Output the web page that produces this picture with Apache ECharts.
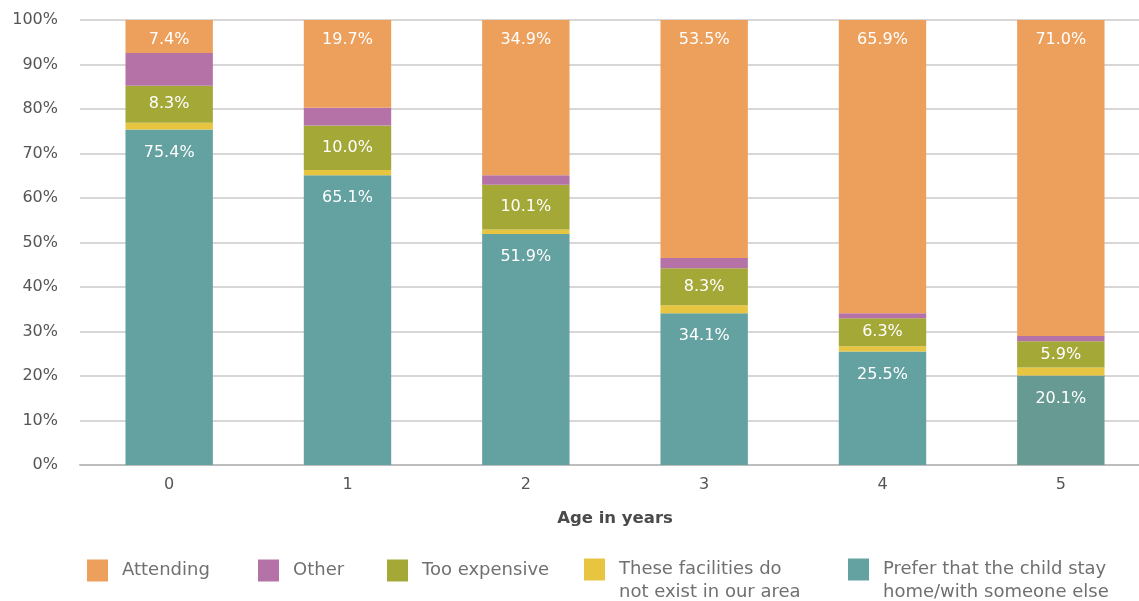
<!DOCTYPE html>
<html>
<head>
<meta charset="utf-8">
<script src="https://cdn.jsdelivr.net/npm/echarts@6/dist/echarts.min.js"></script>
<style>
  html, body { margin: 0; padding: 0; background: #fff; }
  #chart { width: 1139px; height: 601px; }
</style>
</head>
<body>
<div id="chart"></div>
<script>
// Reasons for not attending childcare, by age of the child (shares, %)
const ages = ['0', '1', '2', '3', '4', '5'];
const yTicks = ['0%', '10%', '20%', '30%', '40%', '50%', '60%', '70%', '80%', '90%', '100%'];

const prefer       = [75.4, 65.1, 51.9, 34.1, 25.5, 20.1];
const noFacility   = [1.5, 1.2, 1.0, 1.8, 1.2, 1.8];
const tooExpensive = [8.3, 10.0, 10.1, 8.3, 6.3, 5.9];
const other        = [7.4, 4.0, 2.1, 2.3, 1.1, 1.2];
const attending    = [7.4, 19.7, 34.9, 53.5, 65.9, 71.0];

const seriesNames = [
  'Prefer that the child stay\nhome/with someone else',
  'These facilities do\nnot exist in our area',
  'Too expensive',
  'Other',
  'Attending'
];

const FONT = 'DejaVu Sans';
const colors = {
  prefer: '#64a1a1',
  noFacility: '#e8c540',
  tooExpensive: '#a3a836',
  other: '#b572a7',
  attending: '#eda05c'
};

const labelText = { color: '#fff', fontFamily: FONT, fontSize: 16 };
const pct = p => p.value.toFixed(1) + '%';

function bar(name, values, color, label) {
  return {
    name: name,
    type: 'bar',
    stack: 'total',
    barWidth: '49%',
    itemStyle: { color: color },
    label: label ? Object.assign({ show: true, formatter: pct }, labelText, label) : { show: false },
    data: values
  };
}

// The oldest group's "prefer" bar is drawn in a slightly darker tone
const preferData = prefer.map((v, i) => i === 5 ? { value: v, itemStyle: { color: '#669a93' } } : v);

const chart = echarts.init(document.getElementById('chart'), null, { renderer: 'canvas' });

// One legend per entry so each can sit at its own spot; two-line names get an
// empty leading line so the swatch lines up with their first line.
const legendRich = {
  t: { fontFamily: FONT, fontSize: 18, color: '#707070', lineHeight: 23, padding: [0, 0, 0, 9] }
};
function legendAt(name, left, top, twoLine) {
  return {
    data: [name],
    left: left,
    top: top,
    padding: 0,
    itemWidth: 21,
    itemHeight: 22,
    itemGap: 0,
    icon: 'rect',
    selectedMode: false,
    formatter: n => (twoLine ? '\n' : '') + n.split('\n').map(l => '{t|' + l + '}').join('\n'),
    textStyle: {
      fontFamily: FONT,
      fontSize: 18,
      color: '#707070',
      lineHeight: 23,
      rich: legendRich
    }
  };
}

chart.setOption({
  animation: false,
  backgroundColor: '#ffffff',
  grid: { left: 80, width: 1070, top: 20, bottom: 136, containLabel: false, outerBoundsMode: 'none' },
  xAxis: {
    type: 'category',
    data: ages,
    name: 'Age in years',
    nameLocation: 'middle',
    nameGap: 45,
    nameTextStyle: { fontFamily: FONT, fontSize: 16.5, fontWeight: 'bold', color: '#4a4a4a' },
    axisLine: { lineStyle: { color: '#bdbdbd', width: 2 } },
    axisTick: { show: false },
    axisLabel: { fontFamily: FONT, fontSize: 16, color: '#555', margin: 12 }
  },
  yAxis: {
    type: 'value',
    min: 0,
    max: 100,
    interval: 10,
    axisLine: { show: false },
    axisTick: { show: false },
    splitLine: { lineStyle: { color: '#cdc9cb', width: 1.5 } },
    axisLabel: {
      fontFamily: FONT, fontSize: 16, color: '#555', margin: 22,
      formatter: v => yTicks[Math.round(v / 10)]
    }
  },
  legend: [
    legendAt(seriesNames[4], 87, 559, false),
    legendAt(seriesNames[3], 258, 559, false),
    legendAt(seriesNames[2], 387, 559, false),
    legendAt(seriesNames[1], 584, 535, true),
    legendAt(seriesNames[0], 848, 535, true)
  ],
  series: [
    bar(seriesNames[0], preferData, colors.prefer, { position: 'insideTop', distance: 15 }),
    bar(seriesNames[1], noFacility, colors.noFacility, null),
    bar(seriesNames[2], tooExpensive, colors.tooExpensive, { position: 'inside' }),
    bar(seriesNames[3], other, colors.other, null),
    bar(seriesNames[4], attending, colors.attending, { position: 'insideTop', distance: 12 })
  ]
});
</script>
</body>
</html>
